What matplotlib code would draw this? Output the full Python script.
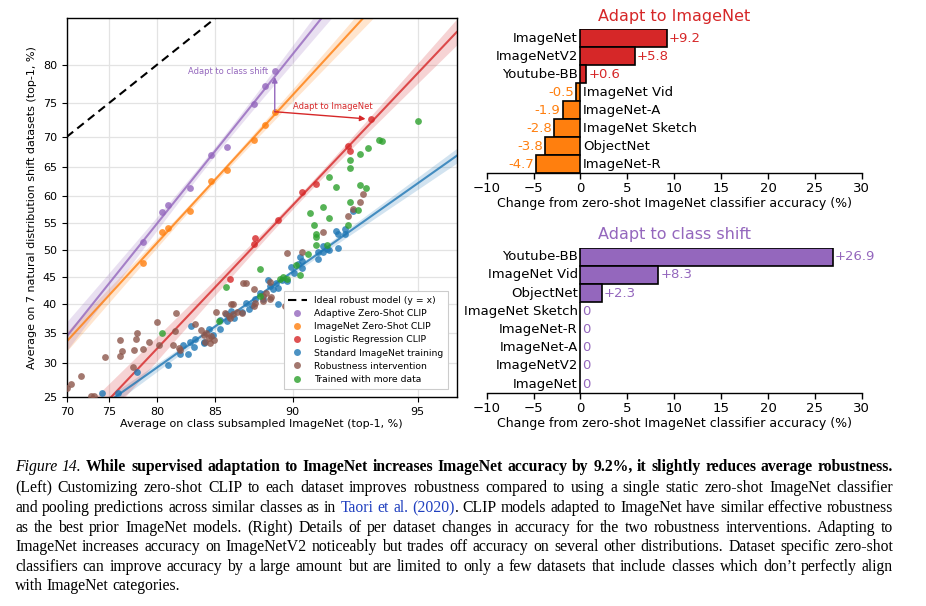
import numpy as np
import matplotlib
matplotlib.use("Agg")
import matplotlib.pyplot as plt
from matplotlib.lines import Line2D

plt.rcParams['font.family'] = 'DejaVu Sans'

# ---------------- data (percent) ----------------
clip_x = [89.0, 88.4, 87.7, 85.9, 84.7, 83.0, 81.0, 80.5, 78.6]
adaptive_y = [79.2, 77.4, 74.9, 68.4, 67.0, 61.4, 58.3, 57.0, 51.5]
zeroshot_y = [73.8, 71.8, 69.5, 64.5, 62.7, 57.3, 54.2, 53.3, 47.6]

logreg_x = [93.5, 92.6, 92.7, 91.2, 90.5, 89.2, 87.8, 87.7, 86.1]
logreg_y = [72.7, 68.6, 67.7, 62.1, 60.7, 55.6, 52.2, 51.1, 44.7]

standard_x = [92.8, 92.1, 92.5, 92.5, 92.2, 91.5, 91.7, 91.8, 92.2, 91.3, 91.5, 91.3,
              90.5, 90.5, 90.3, 90.1, 89.9, 90.4, 89.7, 89.4, 89.1, 89.2, 88.9, 88.7, 88.6,
              88.1, 88.3, 87.8, 87.2, 87.4, 86.9, 89.2, 87.6, 86.2, 85.8, 85.4, 85.9, 86.4,
              84.5, 85.4, 84.8, 84.1, 84.1, 83.4, 83.3, 83.0, 82.4, 83.1, 82.8, 82.1, 81.0,
              78.0, 76.0, 74.2]
standard_y = [57.2, 53.6, 53.9, 53.1, 53.0, 50.8, 50.2, 50.0, 50.4, 49.6, 49.7, 48.4,
              47.9, 46.6, 47.4, 45.8, 46.8, 48.7, 44.3, 44.5, 43.9, 43.0, 42.7, 43.4, 44.5,
              42.1, 40.9, 40.9, 40.3, 39.1, 38.6, 40.0, 39.8, 38.8, 38.2, 37.3, 37.0, 37.6,
              35.6, 35.6, 34.6, 33.5, 33.3, 33.9, 32.7, 33.5, 33.0, 36.1, 31.5, 31.5, 29.8,
              28.6, 25.6, 25.5]

robust_x = [70.0, 70.6, 71.8, 73.0, 73.3, 74.6, 76.2, 76.5, 76.2, 77.6, 77.7, 78.0, 77.9,
            78.6, 79.2, 80.0, 80.2, 81.7, 81.8, 81.5, 82.0, 82.1, 83.4, 83.9, 84.1, 84.3,
            84.5, 84.7, 84.9, 84.2, 84.6, 85.1, 85.7, 86.0, 86.3, 86.6, 86.9, 86.3, 86.2,
            86.1, 87.2, 87.7, 87.0, 88.7, 87.7, 87.8, 88.3, 88.5, 88.7, 88.8, 88.3, 89.6,
            89.7, 90.5, 91.5, 92.6, 92.8, 93.1, 93.2]
robust_y = [26.3, 26.9, 28.1, 25.1, 25.1, 31.0, 33.8, 32.0, 31.1, 29.4, 32.1, 35.0, 33.9,
            32.3, 33.4, 36.8, 33.0, 35.3, 38.5, 33.0, 32.5, 32.2, 36.5, 35.5, 34.7, 35.0,
            34.1, 34.4, 33.8, 33.5, 33.3, 38.6, 38.5, 37.9, 38.2, 38.6, 38.5, 40.0, 40.1,
            37.6, 43.8, 42.7, 43.8, 44.1, 39.7, 40.3, 41.5, 42.1, 40.9, 41.4, 40.6, 39.7,
            49.4, 49.7, 53.3, 56.3, 57.6, 58.9, 60.3]

moredata_x = [95.0, 93.8, 93.9, 93.4, 93.1, 92.7, 92.7, 91.8, 92.1, 93.1, 93.3, 92.7, 93.0,
              91.5, 90.9, 91.8, 91.1, 92.6, 91.2, 91.2, 91.2, 91.7, 90.8, 88.1, 90.2, 90.4,
              85.8, 88.1, 89.3, 89.5, 89.7, 85.3, 80.5]
moredata_y = [72.5, 69.5, 69.4, 68.2, 67.2, 66.2, 64.9, 63.4, 61.6, 61.9, 61.4, 58.9, 57.5,
              58.0, 56.9, 56.0, 54.6, 54.6, 53.0, 52.5, 50.9, 51.0, 49.2, 46.5, 47.2, 45.4,
              43.2, 41.5, 44.6, 45.0, 44.6, 37.0, 35.0]

datasets_in = ['ImageNet', 'ImageNetV2', 'Youtube-BB', 'ImageNet Vid', 'ImageNet-A',
               'ImageNet Sketch', 'ObjectNet', 'ImageNet-R']
change_in = [9.2, 5.8, 0.6, -0.5, -1.9, -2.8, -3.8, -4.7]
datasets_cs = ['Youtube-BB', 'ImageNet Vid', 'ObjectNet', 'ImageNet Sketch', 'ImageNet-R',
               'ImageNet-A', 'ImageNetV2', 'ImageNet']
change_cs = [26.9, 8.3, 2.3, 0, 0, 0, 0, 0]

PURPLE, ORANGE, RED = '#9467bd', '#ff7f0e', '#d62728'
BLUE, BROWN, GREEN = '#1f77b4', '#8c564b', '#2ca02c'


def logit(p):
    p = np.clip(np.asarray(p, dtype=float) / 100.0, 1e-6, 1 - 1e-6)
    return np.log(p / (1 - p))


def expit(z):
    return 100.0 / (1 + np.exp(-np.asarray(z, dtype=float)))


def fit_band(x, y, lo=70, hi=96):
    lx, ly = logit(x), logit(y)
    b, a = np.polyfit(lx, ly, 1)
    grid = np.linspace(logit(lo), logit(hi), 200)
    pred = a + b * grid
    res = ly - (a + b * lx)
    n = len(lx)
    s = np.sqrt(res @ res / (n - 2))
    se = s * np.sqrt(1 / n + (grid - lx.mean()) ** 2 / ((lx - lx.mean()) ** 2).sum())
    return expit(grid), expit(pred), expit(pred - 2.2 * se), expit(pred + 2.2 * se)


fig = plt.figure(figsize=(9.26, 6.06), dpi=100)

# ---------------- left scatter ----------------
ax = fig.add_axes([0.0720, 0.3449, 0.4212, 0.6249])
ax.set_xscale('function', functions=(logit, expit))
ax.set_yscale('function', functions=(logit, expit))

ax.plot([70, 85.5], [70, 85.5], ls=(0, (4, 2.5)), color='k', lw=1.5, zorder=3)

for xs, ys, c in [(standard_x, standard_y, BLUE), (logreg_x, logreg_y, RED),
                  (clip_x, zeroshot_y, ORANGE), (clip_x, adaptive_y, PURPLE)]:
    gx, gy, glo, ghi = fit_band(xs, ys)
    ax.fill_between(gx, glo, ghi, color=c, alpha=0.2, lw=0, zorder=1)
    ax.plot(gx, gy, color=c, lw=1.5, alpha=0.8, zorder=2)

sc_kw = dict(s=24, alpha=0.8, linewidths=0, zorder=4)
ax.scatter(standard_x, standard_y, color=BLUE, **sc_kw)
ax.scatter(robust_x, robust_y, color=BROWN, **sc_kw)
ax.scatter(moredata_x, moredata_y, color=GREEN, **sc_kw)
ax.scatter(logreg_x, logreg_y, color=RED, **sc_kw)
ax.scatter(clip_x, zeroshot_y, color=ORANGE, **sc_kw)
ax.scatter(clip_x, adaptive_y, color=PURPLE, **sc_kw)

ax.annotate('', xy=(clip_x[0], adaptive_y[0]), xytext=(clip_x[0], zeroshot_y[0]),
            arrowprops=dict(arrowstyle='-|>', color=PURPLE, lw=1, shrinkA=0, shrinkB=4,
                            mutation_scale=8), zorder=5)
ax.annotate('', xy=(logreg_x[0], logreg_y[0]), xytext=(clip_x[0], zeroshot_y[0]),
            arrowprops=dict(arrowstyle='-|>', color=RED, lw=1, shrinkA=0, shrinkB=4,
                            mutation_scale=8), zorder=5)
ax.text(88.6, 79.2, 'Adapt to class shift', color=PURPLE, fontsize=6, ha='right', va='center')
ax.text(90.0, 74.5, 'Adapt to ImageNet', color=RED, fontsize=6, ha='left', va='center')

ax.set_xlim(70, 96)
ax.set_ylim(25, 85)
xt = [70, 75, 80, 85, 90, 95]
yt = [25, 30, 35, 40, 45, 50, 55, 60, 65, 70, 75, 80]
ax.set_xticks(xt)
ax.set_xticklabels([str(v) for v in xt])
ax.set_yticks(yt)
ax.set_yticklabels([str(v) for v in yt])
ax.minorticks_off()
ax.tick_params(labelsize=8, length=3.5, width=0.8, color='k')
ax.grid(True, color='#e3e3e3', lw=0.9)
ax.set_axisbelow(True)
for sp in ax.spines.values():
    sp.set_color('k')
    sp.set_linewidth(1.0)
ax.set_xlabel('Average on class subsampled ImageNet (top-1, %)', fontsize=8, labelpad=2)
ax.set_ylabel('Average on 7 natural distribution shift datasets (top-1, %)', fontsize=8, labelpad=4)

handles = [Line2D([], [], color='k', ls=(0, (4, 2.5)), lw=1.5)]
for c in [PURPLE, ORANGE, RED, BLUE, BROWN, GREEN]:
    handles.append(Line2D([], [], marker='o', ls='', color=c, alpha=0.8, markersize=5, mew=0))
labels = ['Ideal robust model (y = x)', 'Adaptive Zero-Shot CLIP', 'ImageNet Zero-Shot CLIP',
          'Logistic Regression CLIP', 'Standard ImageNet training', 'Robustness intervention',
          'Trained with more data']
leg = ax.legend(handles, labels, loc='lower right', fontsize=6.7, frameon=True,
                edgecolor='#cccccc', fancybox=False, framealpha=1, borderpad=0.5,
                labelspacing=0.45, handlelength=2.0, bbox_to_anchor=(0.99, 0.01))
leg.get_frame().set_linewidth(0.8)
leg.set_zorder(6)


# ---------------- right bar charts ----------------
def bar_panel(rect, names, vals, title, pos_color, neg_color, title_color):
    bx = fig.add_axes(rect)
    pos = np.arange(len(names))[::-1]
    cols = [pos_color if v >= 0 else neg_color for v in vals]
    bx.barh(pos, vals, height=1.0, color=cols, edgecolor='k', linewidth=1.2)
    for p, v, n, c in zip(pos, vals, names, cols):
        txt = '0' if v == 0 else ('%+.1f' % v)
        if v >= 0:
            bx.annotate(n, (0, p), xytext=(-2, 0), textcoords='offset points',
                        ha='right', va='center', fontsize=9.5)
            bx.annotate(txt, (v, p), xytext=(1.5, 0), textcoords='offset points',
                        ha='left', va='center', fontsize=9.5, color=c)
        else:
            bx.annotate(n, (0, p), xytext=(2, 0), textcoords='offset points',
                        ha='left', va='center', fontsize=9.5)
            bx.annotate(txt, (v, p), xytext=(-1.5, 0), textcoords='offset points',
                        ha='right', va='center', fontsize=9.5, color=c)
    bx.set_xlim(-10, 30)
    bx.set_ylim(-0.5, len(names) - 0.5)
    bx.set_xticks([-10, -5, 0, 5, 10, 15, 20, 25, 30])
    bx.set_yticks([])
    for s in ['left', 'right', 'top']:
        bx.spines[s].set_visible(False)
    bx.spines['bottom'].set_linewidth(1.0)
    bx.tick_params(axis='x', labelsize=9.5, length=4, width=1.0, pad=2)
    bx.set_xlabel('Change from zero-shot ImageNet classifier accuracy (%)', fontsize=9, labelpad=2)
    bx.set_title(title, color=title_color, fontsize=11.5, pad=6)
    return bx


bar_panel([0.5256, 0.7140, 0.4050, 0.2381], datasets_in, change_in,
          'Adapt to ImageNet', RED, ORANGE, RED)
bar_panel([0.5256, 0.3510, 0.4050, 0.2403], datasets_cs, change_cs,
          'Adapt to class shift', PURPLE, PURPLE, PURPLE)

# ---------------- caption ----------------
SERIF = 'Liberation Serif'
CAP_FS = 11.3
norm = dict(family=SERIF, fontsize=CAP_FS)
ital = dict(family=SERIF, fontsize=CAP_FS, style='italic')
bold = dict(family=SERIF, fontsize=CAP_FS, weight='bold')
link = dict(family=SERIF, fontsize=CAP_FS, color='#1f3fbf')

caption = [
    ([("Figure 14. ", ital),
      ("While supervised adaptation to ImageNet increases ImageNet accuracy by 9.2%, "
       "it slightly reduces average robustness.", bold)], True),
    ([("(Left) Customizing zero-shot CLIP to each dataset improves robustness compared to "
       "using a single static zero-shot ImageNet classifier", norm)], True),
    ([("and pooling predictions across similar classes as in ", norm),
      ("Taori et al. (2020)", link),
      (". CLIP models adapted to ImageNet have similar effective robustness", norm)], True),
    ([("as the best prior ImageNet models. (Right) Details of per dataset changes in accuracy "
       "for the two robustness interventions. Adapting to", norm)], True),
    ([("ImageNet increases accuracy on ImageNetV2 noticeably but trades off accuracy on several "
       "other distributions. Dataset specific zero-shot", norm)], True),
    ([("classifiers can improve accuracy by a large amount but are limited to only a few "
       "datasets that include classes which don\u2019t perfectly align", norm)], True),
    ([("with ImageNet categories.", norm)], False),
]
line_y = [471.0, 492.0, 512.0, 531.5, 551.0, 571.0, 590.5]
X0, X1 = 15.0, 893.0
W, H = 926.0, 606.0

renderer = fig.canvas.get_renderer()


def split_words(segments):
    words = []
    new_word = True
    for text, props in segments:
        parts = text.split(' ')
        for i, p in enumerate(parts):
            if i > 0:
                new_word = True
            if p == '':
                continue
            if new_word or not words:
                words.append([(p, props)])
            else:
                words[-1].append((p, props))
            new_word = False
    return words


for (segments, justify), yb in zip(caption, line_y):
    words = split_words(segments)
    objs = []
    widths = []
    for w in words:
        pieces = []
        total = 0.0
        for t, props in w:
            o = fig.text(0, 1 - yb / H, t, va='baseline', ha='left', **props)
            wd = o.get_window_extent(renderer).width
            pieces.append((o, wd))
            total += wd
        objs.append(pieces)
        widths.append(total)
    if justify and len(words) > 1:
        gap = (X1 - X0 - sum(widths)) / (len(words) - 1)
    else:
        gap = CAP_FS * 100 / 72 * 0.25
    x = X0
    for pieces, wd in zip(objs, widths):
        px = x
        for o, pw in pieces:
            o.set_x(px / W)
            px += pw
        x += wd + gap

fig.savefig('out.png', dpi=100)
